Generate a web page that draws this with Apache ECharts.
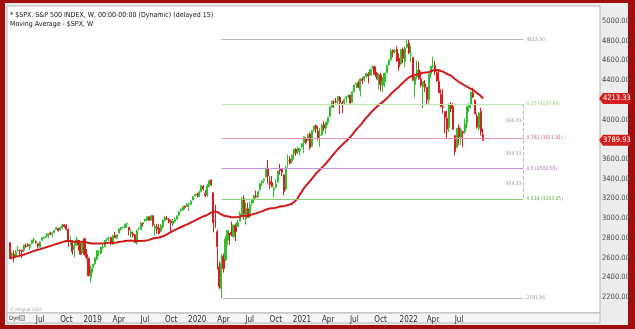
<!DOCTYPE html>
<html><head><meta charset="utf-8">
<script src="https://cdn.jsdelivr.net/npm/echarts@6/dist/echarts.min.js"></script>
<style>html,body{margin:0;padding:0;background:#fff}#c{width:635px;height:329px}</style>
</head><body><div id="c"></div>
<script>
// Weekly candles: [week start (Mon), open, high, low, close]
const candles = [
['2018-03-19',2752,2752,2585,2588],['2018-03-26',2619,2659,2593,2641],['2018-04-02',2633,2672,2553,2604],['2018-04-09',2611,2680,2605,2656],
['2018-04-16',2670,2717,2660,2670],['2018-04-23',2675,2683,2612,2670],['2018-04-30',2675,2682,2594,2663],['2018-05-07',2675,2732,2655,2728],
['2018-05-14',2718,2743,2701,2713],['2018-05-21',2735,2742,2707,2721],['2018-05-28',2705,2736,2676,2735],['2018-06-04',2742,2779,2735,2779],
['2018-06-11',2780,2801,2752,2780],['2018-06-18',2765,2775,2742,2755],['2018-06-25',2742,2747,2691,2718],['2018-07-02',2705,2764,2698,2760],
['2018-07-09',2776,2804,2770,2801],['2018-07-16',2798,2816,2790,2802],['2018-07-23',2804,2848,2796,2819],['2018-07-30',2819,2841,2795,2840],
['2018-08-06',2850,2863,2828,2833],['2018-08-13',2835,2855,2802,2850],['2018-08-20',2853,2876,2848,2875],['2018-08-27',2885,2916,2884,2902],
['2018-09-03',2897,2900,2864,2872],['2018-09-10',2880,2912,2873,2905],['2018-09-17',2902,2941,2886,2930],['2018-09-24',2933,2940,2903,2914],
['2018-10-01',2926,2940,2874,2886],['2018-10-08',2882,2894,2710,2767],['2018-10-15',2764,2816,2724,2768],['2018-10-22',2773,2778,2628,2659],
['2018-10-29',2682,2756,2603,2723],['2018-11-05',2726,2815,2722,2781],['2018-11-12',2773,2775,2670,2736],['2018-11-19',2730,2747,2631,2633],
['2018-11-26',2650,2760,2649,2760],['2018-12-03',2790,2800,2621,2633],['2018-12-10',2630,2685,2583,2600],['2018-12-17',2590,2601,2409,2417],
['2018-12-24',2400,2520,2347,2486],['2018-12-31',2498,2538,2443,2532],['2019-01-07',2535,2604,2525,2596],['2019-01-14',2586,2675,2571,2671],
['2019-01-21',2657,2669,2613,2665],['2019-01-28',2644,2709,2631,2707],['2019-02-04',2703,2738,2682,2708],['2019-02-11',2712,2775,2704,2776],
['2019-02-18',2780,2796,2763,2793],['2019-02-25',2798,2814,2771,2804],['2019-03-04',2804,2808,2722,2743],['2019-03-11',2735,2831,2729,2822],
['2019-03-18',2823,2860,2800,2801],['2019-03-25',2800,2836,2785,2834],['2019-04-01',2848,2893,2848,2893],['2019-04-08',2888,2910,2873,2907],
['2019-04-15',2904,2916,2896,2905],['2019-04-22',2904,2940,2898,2940],['2019-04-29',2941,2954,2900,2946],['2019-05-06',2908,2908,2825,2881],
['2019-05-13',2840,2892,2801,2860],['2019-05-20',2841,2865,2805,2826],['2019-05-27',2831,2841,2750,2752],['2019-06-03',2751,2885,2728,2873],
['2019-06-10',2885,2911,2880,2887],['2019-06-17',2886,2964,2883,2950],['2019-06-24',2951,2955,2912,2942],['2019-07-01',2971,2996,2964,2990],
['2019-07-08',2980,3014,2967,3014],['2019-07-15',3014,3017,2975,2977],['2019-07-22',2978,3028,2976,3026],['2019-07-29',3025,3027,2914,2932],
['2019-08-05',2898,2945,2822,2919],['2019-08-12',2908,2943,2840,2889],['2019-08-19',2898,2939,2834,2847],['2019-08-26',2866,2940,2856,2926],
['2019-09-02',2910,2985,2892,2979],['2019-09-09',2980,3021,2965,3007],['2019-09-16',2996,3022,2980,2992],['2019-09-23',2987,3002,2946,2962],
['2019-09-30',2968,2983,2855,2952],['2019-10-07',2945,2993,2918,2970],['2019-10-14',2965,3008,2952,2986],['2019-10-21',2990,3027,2984,3023],
['2019-10-28',3032,3066,3023,3067],['2019-11-04',3078,3097,3067,3093],['2019-11-11',3081,3120,3078,3120],['2019-11-18',3123,3127,3091,3110],
['2019-11-25',3117,3154,3115,3141],['2019-12-02',3143,3150,3070,3146],['2019-12-09',3141,3183,3134,3169],['2019-12-16',3183,3226,3183,3221],
['2019-12-23',3225,3247,3223,3240],['2019-12-30',3240,3258,3211,3235],['2020-01-06',3217,3282,3214,3265],['2020-01-13',3273,3329,3263,3330],
['2020-01-20',3323,3337,3281,3295],['2020-01-27',3248,3285,3214,3226],['2020-02-03',3235,3347,3214,3328],['2020-02-10',3318,3385,3315,3380],
['2020-02-17',3388,3393,3328,3338],['2020-02-24',3257,3259,2855,2954],['2020-03-02',2974,3136,2901,2972],['2020-03-09',2863,2883,2479,2711],
['2020-03-16',2508,2562,2280,2305],['2020-03-23',2290,2637,2192,2541],['2020-03-30',2614,2641,2447,2489],['2020-04-06',2578,2818,2562,2790],
['2020-04-13',2776,2880,2725,2875],['2020-04-20',2845,2845,2727,2837],['2020-04-27',2855,2965,2816,2831],['2020-05-04',2815,2934,2798,2930],
['2020-05-11',2915,2945,2767,2864],['2020-05-18',2914,2981,2910,2955],['2020-05-25',2969,3068,2969,3044],['2020-06-01',3038,3211,3025,3194],
['2020-06-08',3199,3233,2984,3041],['2020-06-15',2994,3155,2933,3098],['2020-06-22',3094,3155,3004,3009],['2020-06-29',3018,3165,2999,3130],
['2020-07-06',3155,3198,3127,3185],['2020-07-13',3191,3238,3152,3225],['2020-07-20',3224,3280,3201,3216],['2020-07-27',3219,3272,3204,3271],
['2020-08-03',3289,3352,3280,3351],['2020-08-10',3356,3387,3328,3373],['2020-08-17',3380,3399,3354,3397],['2020-08-24',3418,3509,3409,3508],
['2020-08-31',3507,3588,3349,3427],['2020-09-07',3371,3425,3293,3341],['2020-09-14',3363,3428,3313,3319],['2020-09-21',3285,3320,3209,3298],
['2020-09-28',3310,3398,3306,3348],['2020-10-05',3367,3483,3361,3477],['2020-10-12',3500,3550,3441,3484],['2020-10-19',3493,3502,3424,3465],
['2020-10-26',3441,3441,3233,3270],['2020-11-02',3296,3529,3280,3509],['2020-11-09',3583,3646,3511,3585],['2020-11-16',3600,3628,3543,3558],
['2020-11-23',3579,3645,3553,3638],['2020-11-30',3653,3701,3594,3699],['2020-12-07',3699,3712,3633,3663],['2020-12-14',3675,3726,3647,3709],
['2020-12-21',3684,3711,3636,3703],['2020-12-28',3723,3760,3715,3756],['2021-01-04',3764,3827,3662,3825],['2021-01-11',3803,3823,3749,3768],
['2021-01-18',3788,3861,3784,3841],['2021-01-25',3857,3871,3694,3714],['2021-02-01',3731,3889,3725,3887],['2021-02-08',3893,3937,3874,3935],
['2021-02-15',3939,3950,3865,3907],['2021-02-22',3885,3931,3789,3811],['2021-03-01',3842,3915,3723,3842],['2021-03-08',3844,3960,3834,3943],
['2021-03-15',3949,3983,3885,3913],['2021-03-22',3916,3979,3853,3975],['2021-03-29',3969,4020,3943,4020],['2021-04-05',4034,4129,4021,4129],
['2021-04-12',4124,4192,4119,4185],['2021-04-19',4183,4195,4118,4180],['2021-04-26',4185,4219,4165,4181],['2021-05-03',4192,4238,4160,4233],
['2021-05-10',4228,4237,4056,4174],['2021-05-17',4169,4188,4062,4156],['2021-05-24',4168,4213,4155,4204],['2021-05-31',4216,4234,4167,4230],
['2021-06-07',4230,4249,4214,4247],['2021-06-14',4248,4252,4164,4166],['2021-06-21',4173,4287,4173,4281],['2021-06-28',4285,4355,4275,4352],
['2021-07-05',4362,4372,4320,4370],['2021-07-12',4373,4393,4322,4327],['2021-07-19',4296,4415,4233,4412],['2021-07-26',4410,4430,4360,4395],
['2021-08-02',4407,4441,4383,4437],['2021-08-09',4438,4468,4422,4468],['2021-08-16',4462,4481,4367,4442],['2021-08-23',4450,4513,4443,4509],
['2021-08-30',4529,4546,4513,4535],['2021-09-06',4535,4549,4457,4459],['2021-09-13',4469,4486,4406,4433],['2021-09-20',4402,4466,4305,4455],
['2021-09-27',4450,4475,4288,4357],['2021-10-04',4348,4430,4278,4391],['2021-10-11',4385,4475,4329,4471],['2021-10-18',4473,4560,4473,4545],
['2021-10-25',4553,4608,4546,4605],['2021-11-01',4610,4718,4596,4698],['2021-11-08',4701,4714,4631,4683],['2021-11-15',4689,4717,4672,4698],
['2021-11-22',4712,4744,4585,4595],['2021-11-29',4623,4672,4495,4538],['2021-12-06',4564,4713,4556,4712],['2021-12-13',4710,4731,4572,4621],
['2021-12-20',4587,4740,4531,4726],['2021-12-27',4733,4808,4733,4766],['2022-01-03',4778,4818,4663,4677],['2022-01-10',4656,4749,4582,4663],
['2022-01-17',4632,4632,4395,4398],['2022-01-24',4357,4453,4222,4432],['2022-01-31',4432,4596,4410,4501],['2022-02-07',4506,4590,4402,4419],
['2022-02-14',4412,4490,4327,4349],['2022-02-21',4332,4385,4115,4385],['2022-02-28',4363,4402,4279,4329],['2022-03-07',4327,4327,4157,4204],
['2022-03-14',4202,4465,4161,4463],['2022-03-21',4462,4546,4424,4543],['2022-03-28',4541,4637,4517,4546],['2022-04-04',4547,4593,4450,4488],
['2022-04-11',4474,4487,4381,4393],['2022-04-18',4385,4513,4267,4272],['2022-04-25',4253,4308,4124,4132],['2022-05-02',4130,4307,4062,4123],
['2022-05-09',4081,4081,3859,4024],['2022-05-16',4013,4090,3810,3901],['2022-05-23',3919,4159,3875,4158],['2022-05-30',4151,4177,4074,4109],
['2022-06-06',4134,4168,3900,3901],['2022-06-13',3838,3838,3637,3675],['2022-06-20',3715,3914,3715,3912],['2022-06-27',3920,3951,3739,3825],
['2022-07-04',3818,3918,3744,3899],['2022-07-11',3880,3880,3722,3863],['2022-07-18',3876,4013,3857,3962],['2022-07-25',3965,4141,3913,4130],
['2022-08-01',4120,4167,4079,4145],['2022-08-08',4155,4281,4113,4280],['2022-08-15',4270,4325,4218,4228],['2022-08-22',4195,4204,4057,4058],
['2022-08-29',4034,4062,3907,3924],['2022-09-05',3910,4077,3886,4067],['2022-09-12',4083,4119,3838,3873],['2022-09-19',3846,3907,3789,3789.93]
];

// Moving Average - $SPX, W (values per week, aligned with candles)
const movingAverage = [
2594.0,2599.1,2603.6,2609.4,2614.7,2619.6,2624.4,2630.7,2637.5,2644.8,2652.1,2659.7,2667.7,2674.0,2679.4,2685.5,2691.8,2698.0,2704.1,2710.6,
2716.7,2723.4,2730.8,2738.3,2744.0,2750.4,2756.7,2762.5,2767.8,2768.4,2768.0,2764.2,2760.4,2760.9,2763.8,2761.3,2761.7,2760.2,2755.6,2747.2,
2744.6,2741.9,2741.7,2742.1,2742.0,2742.9,2744.0,2745.2,2747.2,2749.3,2749.5,2750.6,2751.1,2753.1,2757.4,2761.1,2763.7,2767.2,2770.3,2771.4,
2772.0,2771.4,2768.4,2767.6,2768.0,2769.1,2769.4,2771.3,2774.5,2779.8,2786.2,2793.1,2798.0,2800.7,2803.4,2810.8,2816.2,2825.6,2835.4,2849.0,
2860.7,2871.6,2881.4,2890.2,2900.2,2909.9,2920.2,2928.5,2937.2,2945.8,2956.4,2966.4,2977.4,2987.4,2996.7,3007.3,3017.0,3024.2,3033.7,3046.2,
3058.1,3061.3,3066.8,3062.8,3048.2,3038.0,3026.7,3021.7,3018.2,3014.7,3009.8,3009.8,3008.4,3010.1,3015.0,3021.7,3023.2,3025.5,3025.9,3030.1,
3036.0,3042.3,3048.1,3054.3,3061.4,3068.4,3075.3,3085.3,3092.4,3097.3,3101.0,3103.0,3105.7,3111.7,3117.2,3120.6,3119.9,3127.0,3133.4,3137.9,
3145.4,3164.0,3181.3,3206.2,3241.2,3271.6,3305.0,3329.4,3353.6,3375.5,3401.9,3427.0,3453.1,3474.5,3494.4,3513.2,3535.0,3556.9,3582.2,3607.1,
3632.1,3656.0,3680.1,3704.2,3724.8,3744.3,3764.5,3782.6,3803.1,3823.7,3847.7,3874.1,3899.6,3920.9,3944.1,3967.3,3996.5,4020.5,4041.9,4065.7,
4088.1,4107.1,4126.4,4145.0,4161.4,4177.2,4193.4,4212.8,4231.9,4256.5,4276.4,4295.5,4312.7,4330.9,4352.6,4369.6,4389.9,4409.7,4426.1,4439.4,
4444.8,4451.1,4459.1,4463.7,4468.1,4473.8,4476.9,4476.3,4481.7,4491.1,4497.7,4501.1,4501.7,4500.3,4493.3,4486.5,4476.2,4462.0,4454.9,4444.9,
4429.1,4409.5,4396.5,4380.7,4369.3,4356.1,4343.3,4333.0,4321.5,4311.0,4299.6,4283.6,4266.9,4255.1,4234.1,4213.33
];

// Fibonacci retracement (from the 2020 low week to the 2022 high)
const fibLevels = [
  {text:'4813.30',         value:4813.30, line:'#b9b9b9', label:'#9a9a9a'},
  {text:'0.25 (4157.94)',  value:4157.94, line:'#bfe8a8', label:'#93cf78'},
  {text:'0.382 (3811.91)', value:3811.91, line:'#ec93b6', label:'#d6608f'},
  {text:'0.5 (3502.58)',   value:3502.58, line:'#cc92e8', label:'#ad68d0'},
  {text:'0.618 (3193.25)', value:3193.25, line:'#86cf76', label:'#56ad46'},
  {text:'2191.86',         value:2191.86, line:'#b9b9b9', label:'#9a9a9a'}
];
const fibSpans = [
  {text:'346.03', value:3984.9},
  {text:'309.33', value:3657.2},
  {text:'309.33', value:3347.9}
];
const fibStartWeek = '2020-03-23';

const futureWeeks = 57;
const quarterMonthNames = {4:'Apr', 7:'Jul', 10:'Oct'};
const yTickStep = 200, yMin = 2000, yMax = 5200, yLabelMin = 2200, yLabelMax = 5000;

// ---- build ----
const weekStarts = candles.map(r => r[0]);
const categories = weekStarts.concat(Array.from({length: futureWeeks}, (_, i) => '+' + (i + 1)));
const ohlc = candles.map(r => [r[1], r[4], r[3], r[2]]);
const fibStartIdx = weekStarts.indexOf(fibStartWeek);
const fibEndIdx = candles.length + 19;

function fridayOf(iso) { const d = new Date(iso + 'T00:00:00Z'); d.setUTCDate(d.getUTCDate() + 4); return d; }
const xLabels = categories.map((c, i) => {
  if (i < 10 || i >= weekStarts.length) return '';
  const f = fridayOf(c), p = fridayOf(categories[i - 1]);
  if (f.getUTCMonth() === p.getUTCMonth()) return '';
  const m = f.getUTCMonth() + 1;
  if (m === 1) return String(f.getUTCFullYear());
  return quarterMonthNames[m] || '';
});

const FONT = "'Liberation Sans Narrow','Arial Narrow','DejaVu Sans Condensed','Liberation Sans',Arial,sans-serif";

const fibLineData = fibLevels.map(l => [
  {coord:[fibStartIdx, l.value], lineStyle:{color:l.line, width:1, type:'solid'},
   label:{show:true, position:'end', distance:3, formatter:l.text, color:l.label, fontSize:5, fontFamily:FONT}},
  {coord:[fibEndIdx, l.value]}
]);
fibLineData.push([
  {coord:[fibEndIdx, fibLevels[1].value], lineStyle:{color:'#bdbdbd', width:1}, label:{show:false}},
  {coord:[fibEndIdx, fibLevels[4].value]}
]);

const chart = echarts.init(document.getElementById('c'), null, {renderer:'canvas'});
chart.setOption({
  animation:false,
  backgroundColor:'transparent',
  grid:{left:9, right:36, top:1.286, bottom:12.29, containLabel:false},
  xAxis:{
    type:'category', data:categories, boundaryGap:true,
    axisLine:{show:false}, axisTick:{show:false}, splitLine:{show:false},
    axisLabel:{
      interval:(i) => xLabels[i] !== '',
      formatter:(v, i) => xLabels[i],
      margin:-1, color:'#2a2a2a', fontSize:8, fontFamily:FONT
    }
  },
  yAxis:{
    type:'value', position:'right', min:yMin, max:yMax, interval:yTickStep, scale:true,
    axisLine:{show:false}, axisTick:{show:false}, splitLine:{show:false},
    axisLabel:{
      margin:3, color:'#4a4a4a', fontSize:7.5, fontFamily:FONT,
      formatter:(v) => (v < yLabelMin || v > yLabelMax) ? '' : v.toFixed(2)
    }
  },
  series:[
    {
      type:'candlestick', name:'$SPX', data:ohlc, barWidth:1.6, z:3,
      itemStyle:{color:'#2fbf2f', color0:'#d81e1e', borderColor:'#2fbf2f', borderColor0:'#d81e1e', borderWidth:1},
      markLine:{silent:true, symbol:['none','none'], animation:false, data:fibLineData},
      markPoint:{silent:true, animation:false, data:fibSpans.map(s => ({
        coord:[fibEndIdx, s.value], symbol:'circle', symbolSize:0,
        label:{show:true, position:'left', distance:2, formatter:s.text, color:'#9a9a9a', fontSize:5, fontFamily:FONT}
      }))}
    },
    {
      type:'line', name:'Moving Average', data:movingAverage, showSymbol:false, symbol:'none', z:4,
      lineStyle:{color:'#d01a1a', width:2}, smooth:false
    }
  ]
});

// price tags on the right axis, placed through the axis scale
const lastClose = candles[candles.length - 1][4];
const lastMA = movingAverage[movingAverage.length - 1];
const tagX = chart.convertToPixel({xAxisIndex:0}, categories.length - 1) + 1;
const tags = [lastMA, lastClose].map(v => {
  const y = chart.convertToPixel({yAxisIndex:0}, v);
  return {type:'group', z:100, children:[
    {type:'polygon', z:100, shape:{points:[[tagX, y],[tagX + 4, y - 5.5],[630, y - 5.5],[630, y + 5.5],[tagX + 4, y + 5.5]]}, style:{fill:'#d11f1f'}},
    {type:'text', z:101, x:tagX + 4, y:y, style:{text:v.toFixed(2), fill:'#fff', font:'7.5px ' + FONT, textVerticalAlign:'middle'}}
  ]};
});

chart.setOption({graphic:{elements:[
  {type:'rect', z:-30, shape:{x:0, y:0, width:635, height:329}, style:{fill:'#a10e0e'}},
  {type:'rect', z:-29, shape:{x:5, y:3, width:623, height:322}, style:{fill:'#ececec'}},
  {type:'rect', z:-28, shape:{x:7, y:6, width:593, height:307}, style:{fill:'#ffffff', stroke:'#b7b7b7', lineWidth:1}},
  {type:'rect', z:-28, shape:{x:7, y:313, width:593, height:10}, style:{fill:'#f5f5f5', stroke:'#b7b7b7', lineWidth:1}},
  {type:'text', z:50, x:10, y:15, style:{text:'* $SPX, S&P 500 INDEX, W, 00:00-00:00 (Dynamic) (delayed 15)', fill:'#111', font:'7px ' + FONT, textVerticalAlign:'middle'}},
  {type:'text', z:50, x:10, y:24.5, style:{text:'Moving Average - $SPX, W', fill:'#111', font:'7px ' + FONT, textVerticalAlign:'middle'}},
  {type:'text', z:50, x:10, y:309.5, style:{text:'© eSignal 2022', fill:'#9a9a9a', font:'4.5px ' + FONT, textVerticalAlign:'middle'}},
  {type:'text', z:50, x:9, y:318.5, style:{text:'Dyn', fill:'#333', font:'6px ' + FONT, textVerticalAlign:'middle'}},
  {type:'rect', z:50, shape:{x:19.5, y:315.5, width:5, height:5}, style:{fill:'#cfcfcf', stroke:'#777', lineWidth:0.6}}
].concat(tags)}});
</script>
</body></html>
